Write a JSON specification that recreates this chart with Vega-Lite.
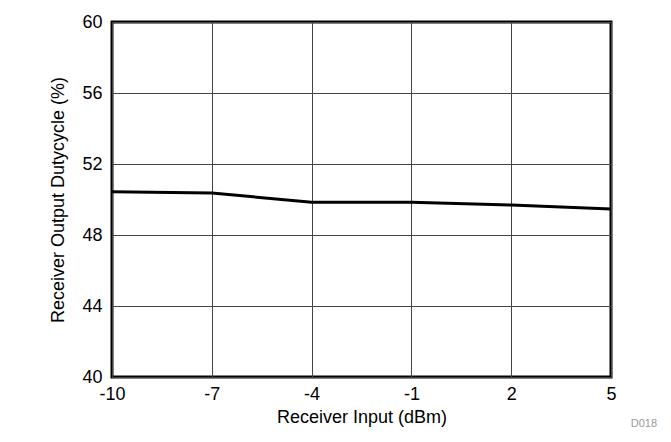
{
  "$schema": "https://vega.github.io/schema/vega-lite/v6.json",
  "autosize": {"type": "none"},
  "padding": {"left": 112, "top": 22, "right": 60, "bottom": 65},
  "width": 499,
  "height": 355,
  "background": "white",
  "config": {
    "font": "Liberation Sans",
    "view": {"stroke": "black", "strokeWidth": 3}
  },
  "title": {
    "text": "D018",
    "orient": "bottom",
    "anchor": "end",
    "fontSize": 11,
    "fontWeight": "normal",
    "color": "#999999",
    "font": "Liberation Sans",
    "offset": 0,
    "dy": -8,
    "dx": 40
  },
  "data": {
    "values": [
      {"input": -10, "duty": 50.44},
      {"input": -7, "duty": 50.37},
      {"input": -4, "duty": 49.84},
      {"input": -1, "duty": 49.84},
      {"input": 2, "duty": 49.69},
      {"input": 5, "duty": 49.46}
    ]
  },
  "mark": {"type": "line", "color": "black", "strokeWidth": 3},
  "encoding": {
    "x": {
      "field": "input",
      "type": "quantitative",
      "scale": {"domain": [-10, 5], "nice": false, "zero": false},
      "axis": {
        "title": "Receiver Input (dBm)",
        "values": [-10, -7, -4, -1, 2, 5],
        "labelExpr": "replace(datum.label, '\u2212', '-')",
        "domain": false,
        "ticks": false,
        "labelFontSize": 18,
        "labelColor": "black",
        "labelPadding": 8,
        "labelFlush": false,
        "titleFontSize": 18,
        "titleFontWeight": "normal",
        "titleColor": "black",
        "titlePadding": 5,
        "gridColor": "#444444",
        "gridWidth": 1,
        "gridOpacity": 1
      }
    },
    "y": {
      "field": "duty",
      "type": "quantitative",
      "scale": {"domain": [40, 60], "nice": false, "zero": false},
      "axis": {
        "title": "Receiver Output Dutycycle (%)",
        "values": [40, 44, 48, 52, 56, 60],
        "domain": false,
        "ticks": false,
        "labelFontSize": 18,
        "labelColor": "black",
        "labelPadding": 10,
        "labelFlush": false,
        "titleFontSize": 18,
        "titleFontWeight": "normal",
        "titleColor": "black",
        "titlePadding": 14,
        "gridColor": "#444444",
        "gridWidth": 1,
        "gridOpacity": 1
      }
    }
  }
}
